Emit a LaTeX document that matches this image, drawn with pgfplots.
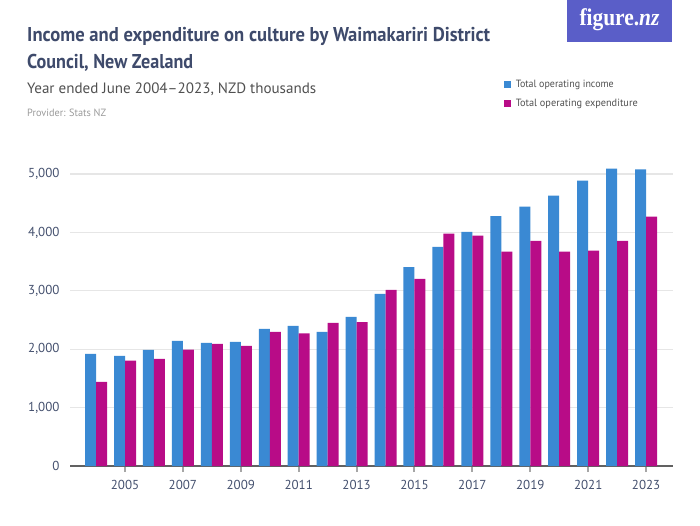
\documentclass[border=0pt]{standalone}
\usepackage{pgfplots}
\pgfplotsset{compat=1.18}
\usepackage{pgfplotstable}
\usepackage{graphicx}
\usepackage{fontspec}
\setmainfont{PT Sans}
\newfontfamily\logofont{Liberation Serif}

\definecolor{income}{HTML}{3A89D3}
\definecolor{expend}{HTML}{B80C87}
\definecolor{titlec}{HTML}{3E4A6B}
\definecolor{subc}{HTML}{505050}
\definecolor{provc}{HTML}{9A9A9A}
\definecolor{tickc}{HTML}{44506E}
\definecolor{logoc}{HTML}{5A5EC8}
\definecolor{gridc}{HTML}{E6E6E6}

\pgfplotstableread{
year income expend
2004 1920 1440
2005 1886 1806
2006 1989 1834
2007 2143 1994
2008 2109 2091
2009 2126 2057
2010 2349 2297
2011 2400 2269
2012 2297 2451
2013 2554 2463
2014 2949 3017
2015 3406 3206
2016 3754 3977
2017 4011 3943
2018 4280 3669
2019 4440 3857
2020 4629 3669
2021 4886 3686
2022 5091 3857
2023 5080 4269
}\culture

\begin{document}
\begin{tikzpicture}
% page frame, 700 x 525 (1px = 1pt)
\path[use as bounding box] (0pt,0pt) rectangle (700pt,525pt);

% header
\node[anchor=base west,inner sep=0,text=titlec] at (27pt,483pt)
  {\resizebox{463pt}{\height}{\fontsize{20}{24}\selectfont\bfseries Income and expenditure on culture by Waimakariri District}};
\node[anchor=base west,inner sep=0,text=titlec] at (27pt,456pt)
  {\resizebox{166pt}{\height}{\fontsize{20}{24}\selectfont\bfseries Council, New Zealand}};
\node[anchor=base west,inner sep=0,text=subc] at (27pt,431pt)
  {\resizebox{289pt}{\height}{\fontsize{15}{18}\selectfont Year ended June 2004--2023, NZD thousands}};
\node[anchor=base west,inner sep=0,text=provc] at (27pt,408pt)
  {\resizebox{79pt}{\height}{\fontsize{10.5}{12}\selectfont Provider: Stats NZ}};

% logo
\fill[logoc] (567pt,483pt) rectangle (672pt,525pt);
\node[text=white,inner sep=0] at (619.5pt,505pt)
  {\resizebox{80pt}{\height}{\logofont\fontsize{24}{28}\selectfont\bfseries figure.\textit{nz}}};

\begin{axis}[
    at={(70pt,59pt)}, anchor=south west,
    scale only axis,
    width=603pt, height=315.36pt,
    xmin=2003.1, xmax=2023.93,
    ymin=0, ymax=5400,
    ybar=0pt, bar width=11pt,
    axis x line=bottom,
    axis y line=left,
    x axis line style={-, draw=black!62, line width=1.2pt},
    y axis line style={draw=none},
    xtick={2005,2007,...,2023},
    ytick={0,1000,...,5000},
    xtick align=outside,
    major tick length=6pt,
    xtick style={draw=black!35, line width=2pt},
    ytick style={draw=none},
    ymajorgrids,
    major grid style={draw=gridc, line width=1.2pt},
    xticklabel style={/pgf/number format/1000 sep={}, text=tickc, font=\fontsize{13}{15}\selectfont, yshift=-5pt},
    yticklabel style={/pgf/number format/1000 sep={,}, text=tickc, font=\fontsize{13}{15}\selectfont, xshift=-4pt},
    /pgf/number format/assume math mode=true,
    legend style={at={(0.714,1.236)}, anchor=north west, draw=none, fill=none,
      font=\fontsize{10.5}{12}\selectfont, text=subc, row sep=6pt,
      /tikz/every odd column/.append style={column sep=0pt},
      /tikz/every even column/.append style={column sep=3pt}},
    legend cell align=left,
    legend image code/.code={\fill[#1] (0pt,-3.5pt) rectangle (7pt,3.5pt);},
  ]
  \addplot[draw=none, fill=income] table[x=year, y=income] {\culture};
  \addplot[draw=none, fill=expend] table[x=year, y=expend] {\culture};
  \legend{\hspace{3pt}\resizebox{98pt}{\height}{Total operating income},\hspace{3pt}\resizebox{122pt}{\height}{Total operating expenditure}}
\end{axis}
\end{tikzpicture}
\end{document}
